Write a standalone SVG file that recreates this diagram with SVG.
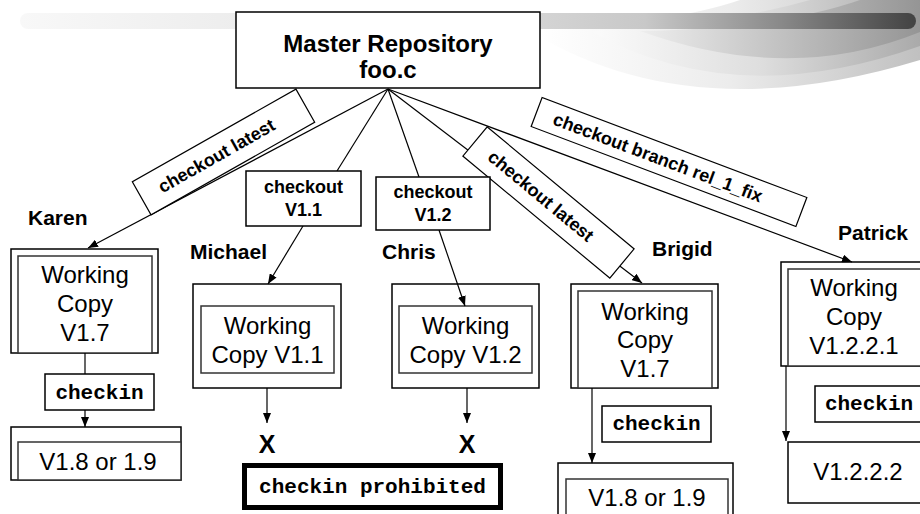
<svg xmlns="http://www.w3.org/2000/svg" width="920" height="514" viewBox="0 0 920 514">
<defs>
<linearGradient id="band" x1="20" y1="0" x2="913" y2="0" gradientUnits="userSpaceOnUse">
<stop offset="0" stop-color="#f8f8f8"/><stop offset="0.4" stop-color="#e6e6e6"/><stop offset="0.7" stop-color="#c8c8c8"/><stop offset="0.85" stop-color="#8a8a8a"/><stop offset="1" stop-color="#444"/>
</linearGradient>
<linearGradient id="sw1" x1="540" y1="0" x2="920" y2="0" gradientUnits="userSpaceOnUse">
<stop offset="0" stop-color="#fff"/><stop offset="0.5" stop-color="#ececec"/><stop offset="1" stop-color="#c0c0c0"/>
</linearGradient>
<linearGradient id="sw2" x1="600" y1="0" x2="920" y2="0" gradientUnits="userSpaceOnUse">
<stop offset="0" stop-color="#fafafa"/><stop offset="0.5" stop-color="#dedede"/><stop offset="1" stop-color="#aaaaaa"/>
</linearGradient>
<linearGradient id="sw3" x1="640" y1="0" x2="920" y2="0" gradientUnits="userSpaceOnUse">
<stop offset="0" stop-color="#eeeeee"/><stop offset="1" stop-color="#959595"/>
</linearGradient>
<marker id="ah" viewBox="0 0 10 8" refX="10" refY="4" markerWidth="10" markerHeight="8" orient="auto" markerUnits="userSpaceOnUse"><path d="M0,0 L10,4 L0,8 Z" fill="#000"/></marker>
<style>
.box{fill:#fff;stroke:#000;stroke-width:1.5}
.inner{fill:#fff;stroke:#333;stroke-width:1.5}
.ln{fill:none;stroke:#000;stroke-width:1.2}
.ar{fill:none;stroke:#000;stroke-width:1.2;marker-end:url(#ah)}
.wc{font-family:"Liberation Sans",Arial,sans-serif;font-size:24px;fill:#000;text-anchor:middle}
.nm{font-family:"Liberation Sans",Arial,sans-serif;font-size:21px;font-weight:bold;fill:#000}
.lb{font-family:"Liberation Sans",Arial,sans-serif;font-size:18px;font-weight:bold;fill:#000;text-anchor:middle}
.mono{font-family:"Liberation Mono","Courier New",monospace;font-size:21px;font-weight:bold;fill:#000;text-anchor:middle}
.x{font-family:"Liberation Sans",Arial,sans-serif;font-size:25px;font-weight:bold;fill:#000;text-anchor:middle}
</style>
</defs>
<g id="decoration">
<path d="M530,31 Q690,130 920,60 L920,0 L740,0 Q670,24 530,31 Z" fill="url(#sw1)"/>
<path d="M590,31 Q735,112 920,46 L920,0 L810,0 Q720,26 590,31 Z" fill="url(#sw2)"/>
<path d="M640,31 Q790,85 920,32 L920,0 L860,0 Q780,28 640,31 Z" fill="url(#sw3)"/>
<rect x="20" y="13" width="896" height="16" rx="8" fill="url(#band)"/>
</g>
<g id="karen">
<text class="nm" x="28" y="225">Karen</text>
<rect class="box" x="11" y="249" width="147" height="104"/>
<rect class="inner" x="18" y="256" width="134" height="97"/>
<text class="wc" x="85" y="283">Working</text>
<text class="wc" x="85" y="312">Copy</text>
<text class="wc" x="85" y="341">V1.7</text>
</g>
<g id="karen-checkin">
<rect class="box" x="45" y="374" width="109" height="36"/>
<text class="mono" x="99.5" y="399">checkin</text>
</g>
<g id="karen-result">
<rect class="box" x="11" y="427" width="170" height="53"/>
<rect class="inner" x="18" y="442" width="163" height="38"/>
<text class="wc" x="98" y="470">V1.8 or 1.9</text>
</g>
<g id="michael">
<text class="nm" x="190" y="259">Michael</text>
<rect class="box" x="193" y="284" width="148" height="104"/>
<rect class="inner" x="201" y="306" width="133" height="67"/>
<text class="wc" x="267.5" y="334">Working</text>
<text class="wc" x="267.5" y="363">Copy V1.1</text>
<text class="x" x="267" y="453">X</text>
</g>
<g id="chris">
<text class="nm" x="382" y="259">Chris</text>
<rect class="box" x="392" y="284" width="147" height="104"/>
<rect class="inner" x="399" y="306" width="133" height="67"/>
<text class="wc" x="465.5" y="334">Working</text>
<text class="wc" x="465.5" y="363">Copy V1.2</text>
<text class="x" x="467" y="453">X</text>
</g>
<g id="prohibited">
<rect x="244.5" y="465.5" width="256" height="42" fill="#fff" stroke="#000" stroke-width="5"/>
<text class="mono" x="372.5" y="493">checkin prohibited</text>
</g>
<g id="brigid">
<text class="nm" x="652" y="256">Brigid</text>
<rect class="box" x="571" y="284" width="147" height="104"/>
<rect class="inner" x="578" y="291" width="134" height="97"/>
<text class="wc" x="645" y="320">Working</text>
<text class="wc" x="645" y="348">Copy</text>
<text class="wc" x="645" y="377">V1.7</text>
</g>
<g id="brigid-checkin">
<rect class="box" x="602" y="406" width="109" height="36"/>
<text class="mono" x="656.5" y="430">checkin</text>
</g>
<g id="brigid-result">
<rect class="box" x="558" y="463" width="175" height="60"/>
<rect class="inner" x="566" y="479" width="162" height="44"/>
<text class="wc" x="647" y="506">V1.8 or 1.9</text>
</g>
<g id="patrick">
<text class="nm" x="838" y="240">Patrick</text>
<rect class="box" x="781" y="262" width="150" height="104"/>
<rect class="inner" x="788" y="269" width="143" height="97"/>
<text class="wc" x="854" y="296">Working</text>
<text class="wc" x="854" y="325">Copy</text>
<text class="wc" x="854" y="354">V1.2.2.1</text>
</g>
<g id="patrick-checkin">
<rect class="box" x="815" y="386" width="115" height="36"/>
<text class="mono" x="869" y="410">checkin</text>
</g>
<g id="patrick-result">
<rect class="box" x="788" y="442" width="142" height="61"/>
<text class="wc" x="858" y="480">V1.2.2.2</text>
</g>
<g id="connectors">
<path class="ar" d="M388,89 L88,248"/>
<path class="ln" d="M388,89 L337,171"/>
<path class="ar" d="M303,226 L268,284"/>
<path class="ln" d="M388,89 L419,177"/>
<path class="ar" d="M439,230 L465,306"/>
<path class="ar" d="M388,89 L642,283"/>
<path class="ar" d="M388,89 L852,262"/>
<path class="ln" d="M85,353 L85,374"/>
<path class="ar" d="M85,410 L85,427"/>
<path class="ar" d="M267,388 L267,423"/>
<path class="ar" d="M467,388 L467,423"/>
<path class="ar" d="M592,388 L592,463"/>
<path class="ar" d="M786,366 L786,441"/>
</g>
<g id="master">
<rect class="box" x="236" y="12" width="304" height="76"/>
<text class="lb" x="388" y="52" style="font-size:24px">Master Repository</text>
<text class="lb" x="388" y="78" style="font-size:24px">foo.c</text>
</g>
<g id="label-karen">
<g transform="translate(223.5,152) rotate(-29.5)">
<rect class="box" x="-94" y="-19" width="188" height="38" style="stroke-width:1.2"/>
<text class="lb" x="-8" y="6">checkout latest</text>
</g>
</g>
<g id="label-brigid">
<g transform="translate(548.5,202.5) rotate(39.7)">
<rect class="box" x="-95.5" y="-19" width="191" height="38" style="stroke-width:1.2"/>
<text class="lb" x="-10" y="6">checkout latest</text>
</g>
</g>
<g id="label-patrick">
<g transform="translate(669,162) rotate(20.7)">
<rect class="box" x="-141.5" y="-15.5" width="283" height="31" style="stroke-width:1.2"/>
<text class="lb" x="-12" y="6">checkout branch rel_1_fix</text>
</g>
</g>
<g id="checkout-v11">
<rect class="box" x="246" y="171" width="115" height="55"/>
<text class="lb" x="303.5" y="193">checkout</text>
<text class="lb" x="303.5" y="216">V1.1</text>
</g>
<g id="checkout-v12">
<rect class="box" x="376" y="177" width="114" height="53"/>
<text class="lb" x="433" y="198">checkout</text>
<text class="lb" x="433" y="221">V1.2</text>
</g>
</svg>
